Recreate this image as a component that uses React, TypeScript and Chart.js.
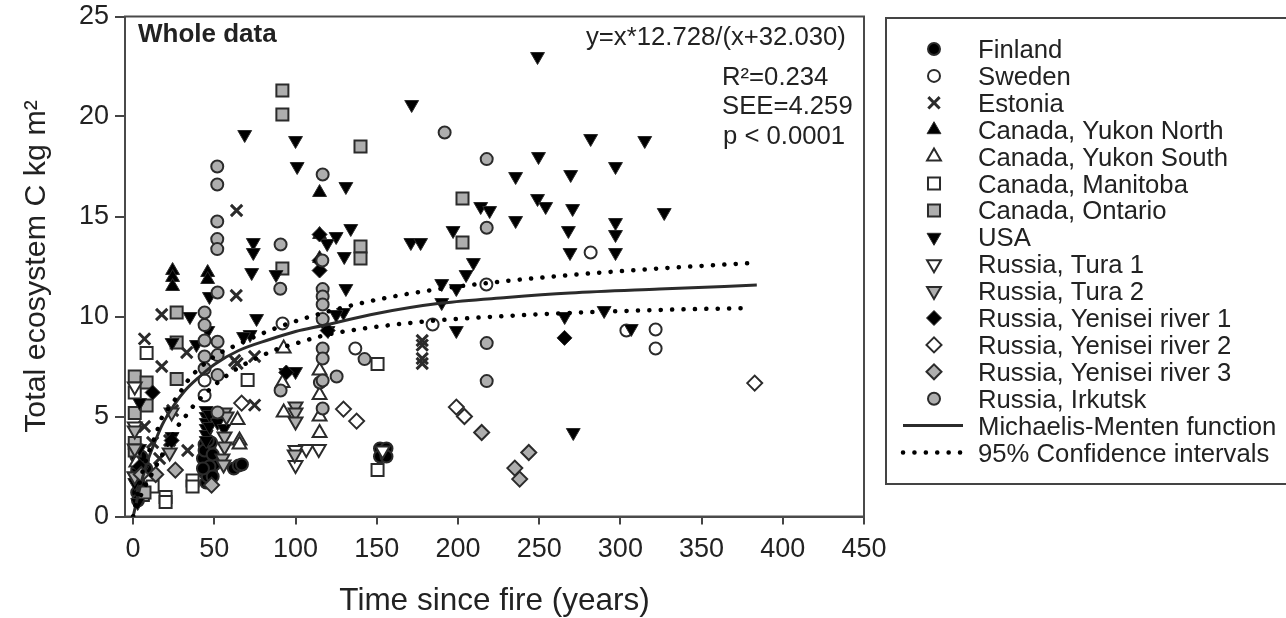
import React, { useEffect, useRef } from "react";
import { Chart, registerables } from "chart.js";
import { drawPoint } from "chart.js/helpers";

Chart.register(...registerables);

type P = [number, number];

const xTicksMax = 450;
const yTicksMax = 25;

const finland: P[] = [[2, 3], [4, 2.6], [6, 2.8], [8, 2.4], [3, 1.8], [5, 1.5], [2.5, 1.2], [3, 0.8], [2.5, 2.3], [5, 3], [44, 2.2], [45, 2.6], [46, 3], [47, 3.4], [44, 3.6], [45, 1.7], [48, 2.2], [46, 2], [50, 2.6], [43, 2.9], [44, 3.3], [47, 2.5], [49, 3.1], [48, 3.7], [46, 3.8], [43, 2.4], [49, 2], [62, 2.4], [65, 2.55], [67, 2.6], [152, 3.4], [156, 3.4], [152, 3], [156, 3]];
const sweden: P[] = [[184.4, 9.6], [92, 9.65], [217.5, 11.6], [281.7, 13.2], [303.7, 9.3], [321.7, 9.35], [321.7, 8.4], [136.8, 8.4], [44, 6.8], [44, 6.05]];
const estonia: P[] = [[63.5, 11.05], [17.6, 10.1], [7, 8.88], [33, 8.2], [17.6, 7.5], [62.5, 7.8], [74.8, 8], [74.8, 5.57], [64, 7.65], [33.6, 3.3], [24.3, 5.3], [7, 4.5], [16.3, 2.9], [12, 3.7], [22.5, 3.8], [63.7, 15.3], [178, 8.8], [178, 8.57], [178, 7.9], [178, 7.65]];
const yukonNorth: P[] = [[24.3, 12.3], [24.3, 11.95], [24.3, 11.5], [45.9, 12.2], [45.9, 11.85], [114.8, 16.2], [114.8, 14.1], [114.8, 12.9]];
const yukonSouth: P[] = [[92.7, 8.4], [114.8, 7.3], [114.8, 6.07], [114.8, 5], [114.8, 4.17], [92.7, 5.2], [92, 6.67], [64.3, 4.82], [65.5, 3.8], [65.5, 3.6], [2, 2.7]];
const manitoba: P[] = [[70.5, 6.83], [8.3, 8.17], [36.6, 1.8], [36.6, 1.5], [20, 0.98], [20, 0.73], [12, 1.5], [6, 1.08], [1, 6.2], [150.5, 7.63], [150.5, 2.33]];
const ontario: P[] = [[91.9, 21.3], [91.9, 20.1], [140, 18.5], [140, 13.5], [140, 12.9], [202.8, 15.9], [202.8, 13.7], [91.9, 12.4], [26.8, 10.2], [26.8, 8.7], [26.8, 6.87], [1, 7], [8.3, 6.7], [8.3, 5.55], [1, 5.17], [1, 3.67], [1, 3.3], [7, 1.2]];
const usa: P[] = [[68.7, 19.1], [100, 18.8], [101, 17.5], [171.5, 20.6], [249, 23], [131, 16.5], [249.6, 18], [281.7, 18.9], [315, 18.8], [297, 17.5], [269.4, 17.1], [235.5, 17], [249, 15.9], [254, 15.5], [214, 15.5], [219.5, 15.3], [270.6, 15.4], [327, 15.2], [235.5, 14.8], [297, 14.7], [297, 14.1], [268, 14.3], [269, 13.2], [297, 13.2], [171, 13.7], [177, 13.7], [197, 14.3], [209.5, 12.7], [205, 12.1], [190, 11.65], [190, 10.7], [199, 11.4], [199, 9.3], [120, 9.3], [129.5, 10.2], [125, 10.1], [94, 7.2], [100, 7.25], [73, 12.2], [74, 13.7], [74, 13.2], [125, 14], [134, 14.4], [119.5, 13.65], [130, 13], [76, 9.9], [72, 9.1], [68, 9], [131, 11.4], [88, 12.1], [265.7, 10], [271, 4.2], [290, 10.3], [306.7, 9.4], [35, 10], [47, 11], [24, 8.7], [46, 9.3], [39, 8.6], [45, 5.3], [45, 5], [45, 4.7], [45, 4.4], [45, 4.1], [45, 3.8], [47, 4.5], [47, 5.1], [52, 4.7], [56, 4.4], [24, 4], [4, 5.7], [1, 1.7], [2.8, 0.7], [6, 2.4], [4, 3.4], [3, 2.2]];
const tura1: P[] = [[114.3, 3.37], [106.6, 3.37], [100, 3.33], [100, 2.58], [153.6, 3.3], [1, 6.5], [1, 4.5], [1, 2]];
const tura2: P[] = [[100, 5.5], [100, 5.2], [100, 4.75], [99.5, 3.1], [56.3, 4], [56.3, 3.5], [55, 2.9], [55.7, 2.6], [56.3, 5.2], [23.7, 5.2], [22.5, 3.2], [1, 3.4], [1, 4.3], [1, 2], [57.5, 5]];
const yenisei1: P[] = [[265.6, 8.93], [12, 6.2], [114.8, 12.8], [114.8, 12.3], [94.3, 7.2], [114.8, 14.1], [119.8, 9.3], [23.7, 3.8], [4, 2.5]];
const yenisei2: P[] = [[382.7, 6.67], [199, 5.47], [204, 5], [129.5, 5.37], [137.6, 4.77], [66.8, 5.67]];
const yenisei3: P[] = [[214.6, 4.2], [235, 2.42], [238, 1.87], [243.6, 3.2], [48.3, 1.57], [26, 2.32], [13.9, 2.1], [5, 2.1]];
const irkutsk: P[] = [[51.8, 17.5], [51.8, 16.6], [51.8, 14.75], [51.8, 13.87], [51.8, 13.37], [90.8, 13.6], [116.7, 17.1], [191.8, 19.2], [217.7, 17.87], [217.7, 14.44], [116.5, 12.8], [90.6, 11.39], [116.7, 11.37], [116.7, 11], [116.7, 10.6], [116.7, 9.87], [116.7, 8.4], [116.7, 7.9], [115, 6.7], [116.7, 6.8], [116.7, 5.4], [90.8, 6.3], [125.3, 7], [142.5, 7.87], [217.7, 8.67], [217.7, 6.77], [52, 11.2], [44, 10.2], [44, 9.57], [44, 8.8], [52, 8.74], [44, 8], [52, 8.07], [52, 7.07], [44, 7.4], [52, 5.2]];

const fitCurve: P[] = [[0, 0], [2, 0.7], [5, 1.7], [9, 2.8], [14, 3.85], [18, 4.6], [25, 5.55], [32, 6.3], [41, 7], [50, 7.6], [65, 8.3], [84, 8.85], [100, 9.25], [117, 9.55], [150, 10.15], [190, 10.67], [230, 10.95], [269, 11.17], [324, 11.37], [384, 11.57]];
const upperCurve: P[] = [[0, 0], [5, 2], [10, 3.3], [14.5, 4.2], [16.3, 4.7], [24.3, 5.67], [29.7, 6.3], [34.7, 6.9], [50, 8], [63.7, 8.57], [84, 9.3], [104, 9.87], [140.5, 10.67], [178, 11.25], [217.7, 11.67], [268.8, 12.07], [324, 12.4], [380, 12.67]];
const lowerCurve: P[] = [[0, 0], [5, 1.1], [12, 2.2], [20, 3.4], [27.4, 4.5], [32.8, 5.07], [37.9, 5.6], [58, 7.07], [86.5, 8.3], [101, 8.67], [114.8, 9], [129, 9.24], [178, 9.74], [220, 9.98], [267, 10.17], [320, 10.32], [376, 10.42]];

const seriesNames = ["Finland", "Sweden", "Estonia", "Canada, Yukon North", "Canada, Yukon South", "Canada, Manitoba", "Canada, Ontario", "USA", "Russia, Tura 1", "Russia, Tura 2", "Russia, Yenisei river 1", "Russia, Yenisei river 2", "Russia, Yenisei river 3", "Russia, Irkutsk"];
const fitName = "Michaelis-Menten function";
const ciName = "95% Confidence intervals";

const INK = "#2b2b2b";
const GREY = "#aeaeae";
const WHITE = "#ffffff";
const FONT = "'Liberation Sans', Arial, sans-serif";

const seriesData = [finland, sweden, estonia, yukonNorth, yukonSouth, manitoba, ontario, usa, tura1, tura2, yenisei1, yenisei2, yenisei3, irkutsk];
const seriesStyle = [
  { pointStyle: "circle", radius: 6, fill: "#000000", rotation: 0, border: 2 },
  { pointStyle: "circle", radius: 6, fill: WHITE, rotation: 0, border: 2 },
  { pointStyle: "crossRot", radius: 8, fill: INK, rotation: 0, border: 3 },
  { pointStyle: "triangle", radius: 8, fill: "#000000", rotation: 0, border: 1 },
  { pointStyle: "triangle", radius: 8, fill: WHITE, rotation: 0, border: 2 },
  { pointStyle: "rect", radius: 8.5, fill: WHITE, rotation: 0, border: 2 },
  { pointStyle: "rect", radius: 8.5, fill: GREY, rotation: 0, border: 2 },
  { pointStyle: "triangle", radius: 8, fill: "#000000", rotation: 180, border: 1 },
  { pointStyle: "triangle", radius: 8, fill: WHITE, rotation: 180, border: 2 },
  { pointStyle: "triangle", radius: 8, fill: GREY, rotation: 180, border: 2 },
  { pointStyle: "rectRot", radius: 7.5, fill: "#000000", rotation: 0, border: 1 },
  { pointStyle: "rectRot", radius: 7.5, fill: WHITE, rotation: 0, border: 2 },
  { pointStyle: "rectRot", radius: 7.5, fill: GREY, rotation: 0, border: 2 },
  { pointStyle: "circle", radius: 6, fill: GREY, rotation: 0, border: 2 },
];

const toXY = (pts: P[]) => pts.map(([x, y]) => ({ x, y }));

const decorations = {
  id: "decorations",
  beforeDatasetsDraw(chart: any) {
    const { ctx, chartArea: a } = chart;
    ctx.save();
    ctx.strokeStyle = "#4a4a4a";
    ctx.lineWidth = 2;
    ctx.strokeRect(a.left, a.top, a.right - a.left, a.bottom - a.top);
    ctx.restore();
  },
  afterDraw(chart: any) {
    const { ctx } = chart;
    ctx.save();
    ctx.fillStyle = "#222";
    ctx.textBaseline = "middle";
    ctx.textAlign = "left";
    ctx.font = `bold 26px ${FONT}`;
    ctx.fillText("Whole data", 138, 35);
    ctx.font = `25.7px ${FONT}`;
    ctx.fillText("y=x*12.728/(x+32.030)", 586, 38);
    ctx.fillText("R²=0.234", 722, 78);
    ctx.fillText("SEE=4.259", 722, 107);
    ctx.fillText("p < 0.0001", 723, 137);

    // legend box, open at the right edge of the page
    ctx.strokeStyle = "#444";
    ctx.lineWidth = 2;
    ctx.beginPath();
    ctx.moveTo(1290, 18);
    ctx.lineTo(886, 18);
    ctx.lineTo(886, 484);
    ctx.lineTo(1290, 484);
    ctx.stroke();

    const rowY = (i: number) => 49 + i * 26.9;
    ctx.font = `25.7px ${FONT}`;
    seriesNames.forEach((name, i) => {
      const s = seriesStyle[i];
      ctx.fillStyle = s.fill;
      ctx.strokeStyle = INK;
      ctx.lineWidth = s.border;
      drawPoint(ctx, { pointStyle: s.pointStyle, radius: s.radius, rotation: s.rotation, borderWidth: s.border }, 934, rowY(i));
      ctx.fillStyle = "#222";
      ctx.fillText(name, 978, rowY(i) + 2);
    });
    ctx.strokeStyle = INK;
    ctx.lineWidth = 3;
    ctx.beginPath();
    ctx.moveTo(903, rowY(14));
    ctx.lineTo(963, rowY(14));
    ctx.stroke();
    ctx.fillStyle = "#222";
    ctx.fillText(fitName, 978, rowY(14) + 2);
    ctx.save();
    ctx.strokeStyle = "#000";
    ctx.lineWidth = 4.5;
    ctx.lineCap = "round";
    ctx.setLineDash([0.1, 11.3]);
    ctx.beginPath();
    ctx.moveTo(903, rowY(15));
    ctx.lineTo(965, rowY(15));
    ctx.stroke();
    ctx.restore();
    ctx.fillText(ciName, 978, rowY(15) + 2);
    ctx.restore();
  },
};

export default function App() {
  const ref = useRef<HTMLCanvasElement>(null);
  useEffect(() => {
    const scatterSets = seriesNames.map((label, i) => ({
      type: "scatter" as const,
      label,
      data: toXY(seriesData[i]),
      order: -i,
      pointStyle: seriesStyle[i].pointStyle,
      pointRadius: seriesStyle[i].radius,
      pointRotation: seriesStyle[i].rotation,
      pointBackgroundColor: seriesStyle[i].fill,
      pointBorderColor: INK,
      pointBorderWidth: seriesStyle[i].border,
      showLine: false,
    }));
    const lineSet = (label: string, pts: P[], order: number, dotted: boolean) => ({
      type: "line" as const,
      label,
      data: toXY(pts),
      order,
      parsing: false,
      borderColor: dotted ? "#000" : INK,
      borderWidth: dotted ? 4.5 : 3,
      borderDash: dotted ? [0.1, 11.3] : [],
      borderCapStyle: dotted ? ("round" as const) : ("butt" as const),
      pointRadius: 0,
      cubicInterpolationMode: "monotone" as const,
      fill: false,
    });
    const chart = new Chart(ref.current!, {
      type: "scatter",
      data: {
        datasets: [
          ...scatterSets,
          lineSet(fitName, fitCurve, -20, false),
          lineSet(ciName, upperCurve, -21, true),
          lineSet(ciName, lowerCurve, -22, true),
        ] as any,
      },
      options: {
        responsive: false,
        animation: false,
        layout: { padding: { left: 0, right: 422, top: 16.5, bottom: 0 } },
        plugins: { legend: { display: false }, tooltip: { enabled: false } },
        scales: {
          x: {
            type: "linear",
            min: -5,
            max: xTicksMax,
            ticks: { stepSize: 50, includeBounds: false, color: "#222", font: { size: 27, family: FONT }, padding: 9, maxRotation: 0 },
            grid: { drawOnChartArea: false, drawTicks: true, tickLength: 8, color: "#444", lineWidth: 2 },
            border: { color: "#4a4a4a", width: 2 },
            title: { display: true, text: "Time since fire (years)", color: "#222", font: { size: 31.5, family: FONT, lineHeight: 1.05 }, padding: { top: 14, bottom: 0 } },
            afterFit: (s: any) => { s.height = 101.5; s.paddingLeft = 0; s.paddingRight = 0; },
          },
          y: {
            type: "linear",
            min: 0,
            max: yTicksMax,
            ticks: { stepSize: 5, color: "#222", font: { size: 27, family: FONT }, padding: 6 },
            grid: { drawOnChartArea: false, drawTicks: true, tickLength: 10, color: "#444", lineWidth: 2 },
            border: { color: "#4a4a4a", width: 2 },
            title: { display: true, text: "Total ecosystem C kg m²", color: "#222", font: { size: 30.4, family: FONT }, padding: { top: 18, bottom: 0 } },
            afterFit: (s: any) => { s.width = 125; s.paddingTop = 0; s.paddingBottom = 0; },
          },
        },
      },
      plugins: [decorations],
    });
    return () => chart.destroy();
  }, []);
  return (
    <div style={{ position: "absolute", left: 0, top: 0, width: 1286, height: 618, background: "#fff" }}>
      <canvas ref={ref} width={1286} height={618} style={{ display: "block", filter: "blur(0.5px)" }} />
    </div>
  );
}
